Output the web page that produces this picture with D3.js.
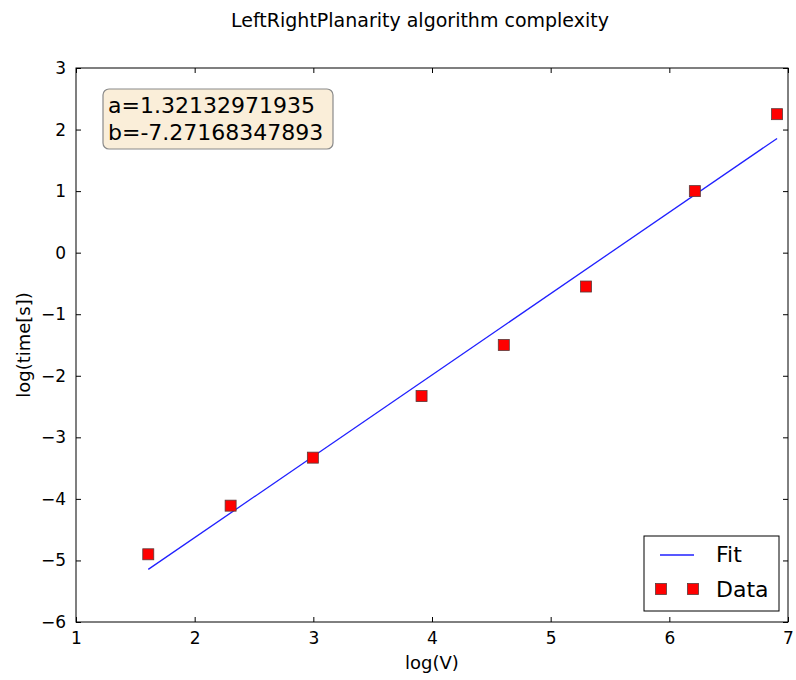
<!DOCTYPE html>
<html>
<head>
<meta charset="utf-8">
<script src="https://cdn.jsdelivr.net/npm/d3@7"></script>
<style>
  body { margin: 0; background: #fff; }
  text { font-family: "DejaVu Sans", sans-serif; fill: #000; }
</style>
</head>
<body>
<div id="chart"></div>
<script>
/* Loglog fit chart */

const width = 796,
    height = 680,
    margin = ({ top: 68, right: 8, bottom: 58, left: 76 });

// data
const logV = [1.609, 2.303, 2.996, 3.912, 4.605, 5.298, 6.215, 6.908];
const logTime = [-4.90, -4.11, -3.33, -2.33, -1.50, -0.55, 1.00, 2.25];
const fitA = 1.32132971935, fitB = -7.27168347893;
const xTicks = [1, 2, 3, 4, 5, 6, 7];
const yTicks = [-6, -5, -4, -3, -2, -1, 0, 1, 2, 3];

const svg = d3.select("#chart")
    .append("svg")
    .attr("width", width)
    .attr("height", height);

let x = d3.scaleLinear()
    .domain([1, 7])
    .range([margin.left, width - margin.right]);

let y = d3.scaleLinear()
    .domain([-6, 3])
    .range([height - margin.bottom, margin.top]);

// title
svg.append("text")
    .attr("x", 420)
    .attr("y", 27)
    .attr("text-anchor", "middle")
    .style("font-size", "19px")
    .text("LeftRightPlanarity algorithm complexity");

// fit line
let fitData = [logV[0], logV[logV.length - 1]].map(v => ({ x: v, y: fitA * v + fitB }));
let line = d3.line().x(d => x(d.x)).y(d => y(d.y));
svg.append("path")
    .datum(fitData)
    .attr("d", line)
    .attr("fill", "none")
    .attr("stroke", "#2020ff")
    .attr("stroke-width", 1.3);

// data markers
const ms = 11;
svg.append("g")
    .selectAll("rect")
    .data(logV.map((v, i) => ({ x: v, y: logTime[i] })))
    .join("rect")
    .attr("x", d => x(d.x) - ms / 2)
    .attr("y", d => y(d.y) - ms / 2)
    .attr("width", ms)
    .attr("height", ms)
    .attr("fill", "#ff0000")
    .attr("stroke", "#5a3a3a")
    .attr("stroke-width", 0.8);

// axes, ticks pointing inward on all four sides
const tk = 5;
const minus = d => d < 0 ? "\u2212" + Math.abs(d) : String(d);
svg.append("g")
    .attr("transform", `translate(0,${height - margin.bottom})`)
    .call(d3.axisBottom(x).tickValues(xTicks).tickSizeInner(-tk).tickSizeOuter(0).tickPadding(10).tickFormat(minus))
    .call(g => g.select(".domain").remove());
svg.append("g")
    .attr("transform", `translate(0,${margin.top})`)
    .call(d3.axisTop(x).tickValues(xTicks).tickSizeInner(-tk).tickSizeOuter(0).tickFormat(""))
    .call(g => g.select(".domain").remove());
svg.append("g")
    .attr("transform", `translate(${margin.left},0)`)
    .call(d3.axisLeft(y).tickValues(yTicks).tickSizeInner(-tk).tickSizeOuter(0).tickPadding(10).tickFormat(minus))
    .call(g => g.select(".domain").remove());
svg.append("g")
    .attr("transform", `translate(${width - margin.right},0)`)
    .call(d3.axisRight(y).tickValues(yTicks).tickSizeInner(-tk).tickSizeOuter(0).tickFormat(""))
    .call(g => g.select(".domain").remove());

svg.selectAll(".tick text")
    .style("font-family", "DejaVu Sans, sans-serif")
    .style("font-size", "17px")
    .attr("fill", "#000");
svg.selectAll(".tick line").attr("stroke", "#000");

// frame
svg.append("rect")
    .attr("x", margin.left)
    .attr("y", margin.top)
    .attr("width", width - margin.left - margin.right)
    .attr("height", height - margin.top - margin.bottom)
    .attr("fill", "none")
    .attr("stroke", "#000")
    .attr("stroke-width", 1);

// axis labels
svg.append("text")
    .attr("x", (margin.left + width - margin.right) / 2)
    .attr("y", 669)
    .attr("text-anchor", "middle")
    .style("font-size", "18px")
    .text("log(V)");

svg.append("text")
    .attr("transform", `translate(30,${(margin.top + height - margin.bottom) / 2}) rotate(-90)`)
    .attr("text-anchor", "middle")
    .style("font-size", "18px")
    .text("log(time[s])");

// parameter box
const box = svg.append("g").attr("transform", "translate(103,89)");
box.append("rect")
    .attr("width", 230)
    .attr("height", 60)
    .attr("rx", 6)
    .attr("fill", "#faeed9")
    .attr("stroke", "#8a8a8a")
    .attr("stroke-width", 1.2);
box.append("text").attr("x", 5).attr("y", 24).style("font-size", "22px").text("a=" + fitA);
box.append("text").attr("x", 5).attr("y", 51).style("font-size", "22px").text("b=" + fitB);

// legend
const leg = svg.append("g").attr("transform", "translate(644,536)");
leg.append("rect")
    .attr("width", 135)
    .attr("height", 75)
    .attr("fill", "#fff")
    .attr("stroke", "#000")
    .attr("stroke-width", 1);
leg.append("line")
    .attr("x1", 16).attr("x2", 50)
    .attr("y1", 19).attr("y2", 19)
    .attr("stroke", "#2020ff")
    .attr("stroke-width", 1.3);
[17, 49].forEach(cx => leg.append("rect")
    .attr("x", cx - ms / 2).attr("y", 53 - ms / 2)
    .attr("width", ms).attr("height", ms)
    .attr("fill", "#ff0000")
    .attr("stroke", "#5a3a3a")
    .attr("stroke-width", 0.8));
leg.append("text").attr("x", 72).attr("y", 26).style("font-size", "22px").text("Fit");
leg.append("text").attr("x", 72).attr("y", 61).style("font-size", "22px").text("Data");
</script>
</body>
</html>
